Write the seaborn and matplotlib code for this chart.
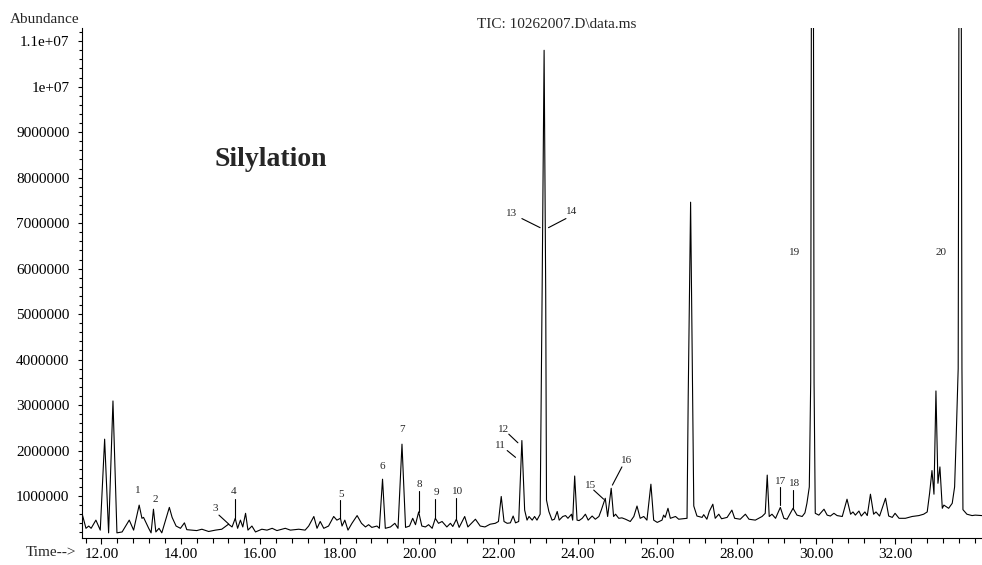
import numpy as np
import pandas as pd
import seaborn as sns
import matplotlib.pyplot as plt
from matplotlib.ticker import MultipleLocator

# TIC trace, vertices (time in min, abundance in millions)
rt = [11.51, 11.61, 11.68, 11.74, 11.86, 11.97, 12.08, 12.18, 12.29, 12.39,
      12.52, 12.70, 12.81, 12.95, 13.02, 13.06, 13.19, 13.25, 13.31, 13.37,
      13.45, 13.52, 13.71, 13.78, 13.88, 13.99, 14.09, 14.15, 14.40, 14.53,
      14.70, 14.87, 15.03, 15.20, 15.29, 15.37, 15.43, 15.50, 15.56, 15.63,
      15.69, 15.79, 15.88, 16.04,
      16.17, 16.30, 16.42, 16.63, 16.76, 16.97, 17.13, 17.22, 17.35, 17.43,
      17.51, 17.60, 17.72, 17.85, 17.93, 18.02, 18.06, 18.13, 18.21, 18.31,
      18.44, 18.55, 18.65, 18.73, 18.81, 18.94, 19.00, 19.08, 19.15, 19.28,
      19.39, 19.47, 19.57, 19.66, 19.76, 19.84, 19.91, 19.99, 20.07, 20.16,
      20.24, 20.33, 20.41, 20.49, 20.58,
      20.70, 20.79, 20.85, 20.94, 21.01, 21.15, 21.23, 21.42, 21.54, 21.66,
      21.79, 21.92, 22.00, 22.07, 22.14, 22.22, 22.30, 22.37, 22.43, 22.51,
      22.59, 22.66, 22.72, 22.77, 22.85, 22.91, 22.97, 23.05, 23.10, 23.15,
      23.19, 23.21, 23.27, 23.35, 23.41, 23.48, 23.53, 23.62, 23.69, 23.75,
      23.84, 23.87, 23.92, 23.98, 24.03, 24.11, 24.19, 24.26, 24.36, 24.44,
      24.53, 24.59, 24.69, 24.75, 24.84, 24.90, 24.95, 25.03, 25.11,
      25.20, 25.32, 25.41, 25.49, 25.57, 25.66, 25.74, 25.84, 25.91, 26.00,
      26.12, 26.16, 26.20, 26.27, 26.33, 26.46, 26.54, 26.75, 26.78, 26.84,
      26.89, 26.92, 27.00, 27.13, 27.17, 27.25, 27.31, 27.40, 27.46, 27.55,
      27.62, 27.76, 27.88, 27.95, 28.09, 28.22, 28.31, 28.47, 28.64, 28.72,
      28.77, 28.82, 28.89, 28.98, 29.10, 29.19, 29.27, 29.42, 29.52, 29.65,
      29.72, 29.77, 29.83, 29.865, 29.91, 29.95, 29.98, 30.07, 30.20, 30.28,
      30.36, 30.45, 30.53, 30.66, 30.78, 30.87, 30.93, 30.99, 31.08, 31.14,
      31.23, 31.29, 31.37, 31.45, 31.51, 31.60, 31.75, 31.83, 31.92, 31.99,
      32.09, 32.25, 32.42, 32.59, 32.71, 32.80, 32.86, 32.92, 32.97, 33.02,
      33.07, 33.12, 33.18, 33.22, 33.34, 33.43, 33.49, 33.53, 33.58, 33.63,
      33.675, 33.70, 33.80, 33.93, 34.01, 34.18]
abund = [0.62, 0.29, 0.34, 0.29, 0.47, 0.25, 2.25, 0.19, 3.09, 0.19,
         0.21, 0.47, 0.25, 0.80, 0.51, 0.53, 0.29, 0.19, 0.71, 0.21,
         0.29, 0.19, 0.75, 0.53, 0.34, 0.29, 0.41, 0.26, 0.24, 0.27,
         0.22, 0.25, 0.27, 0.38, 0.32, 0.51, 0.29, 0.47, 0.32, 0.62,
         0.25, 0.34, 0.21, 0.27,
         0.25, 0.29, 0.24, 0.29, 0.25, 0.27, 0.25, 0.34, 0.55, 0.29,
         0.44, 0.29, 0.34, 0.55, 0.47, 0.51, 0.34, 0.47, 0.25, 0.40,
         0.57, 0.40, 0.32, 0.37, 0.31, 0.34, 0.29, 1.37, 0.29, 0.32,
         0.40, 0.29, 2.14, 0.31, 0.34, 0.51, 0.37, 0.65, 0.34, 0.32,
         0.37, 0.29, 0.51, 0.40, 0.44,
         0.32, 0.40, 0.33, 0.49, 0.31, 0.55, 0.32, 0.49, 0.34, 0.32,
         0.38, 0.40, 0.44, 0.99, 0.44, 0.40, 0.41, 0.56, 0.41, 0.44,
         2.22, 0.69, 0.47, 0.55, 0.47, 0.55, 0.47, 0.60, 5.50, 10.8,
         5.50, 0.91, 0.66, 0.47, 0.49, 0.66, 0.47, 0.55, 0.57, 0.51,
         0.60, 0.47, 1.44, 0.47, 0.46, 0.51, 0.60, 0.47, 0.56, 0.49,
         0.55, 0.69, 0.95, 0.55, 1.17, 0.55, 0.60, 0.51, 0.52,
         0.49, 0.44, 0.55, 0.78, 0.51, 0.55, 0.47, 1.26, 0.47, 0.42,
         0.47, 0.58, 0.53, 0.73, 0.51, 0.55, 0.49, 0.51, 3.20, 7.46,
         3.20, 0.78, 0.56, 0.53, 0.59, 0.49, 0.66, 0.82, 0.51, 0.60,
         0.50, 0.53, 0.69, 0.51, 0.49, 0.60, 0.49, 0.47, 0.55, 0.62,
         1.46, 0.55, 0.60, 0.51, 0.75, 0.51, 0.49, 0.73, 0.58, 0.55,
         0.63, 0.84, 1.20, 3.50, 25.0, 3.50, 0.62, 0.58, 0.71, 0.58,
         0.56, 0.62, 0.57, 0.55, 0.93, 0.60, 0.65, 0.58, 0.67, 0.56,
         0.65, 0.57, 1.04, 0.60, 0.65, 0.56, 0.95, 0.56, 0.53, 0.62,
         0.51, 0.51, 0.55, 0.57, 0.60, 0.65, 1.06, 1.56, 1.04, 3.31,
         1.28, 1.64, 0.73, 0.80, 0.73, 0.84, 1.20, 2.30, 3.80, 25.0,
         3.80, 0.70, 0.60, 0.57, 0.58, 0.57]

x_ticks = [12, 14, 16, 18, 20, 22, 24, 26, 28, 30, 32]
x_labels = ["12.00", "14.00", "16.00", "18.00", "20.00", "22.00",
            "24.00", "26.00", "28.00", "30.00", "32.00"]
y_ticks = [1e6, 2e6, 3e6, 4e6, 5e6, 6e6, 7e6, 8e6, 9e6, 1e7, 1.1e7]
y_labels = ["1000000", "2000000", "3000000", "4000000", "5000000", "6000000",
            "7000000", "8000000", "9000000", "1e+07", "1.1e+07"]

peak_nums = [str(i) for i in range(1, 21)]

# label placement (time, abundance in millions) and leader lines
label_t = [12.92, 13.36, 14.87, 15.34, 18.03, 19.07, 19.57, 20.01, 20.43, 20.96,
           22.05, 22.12, 22.33, 23.85, 24.31, 25.23, 29.10, 29.46, 29.47, 33.14]
label_a = [1.13, 0.93, 0.73, 1.11, 1.04, 1.64, 2.47, 1.26, 1.07, 1.11,
           2.10, 2.47, 7.21, 7.25, 1.24, 1.77, 1.33, 1.28, 6.35, 6.35]
leaders = [(14.96, 0.58, 15.21, 0.38), (15.37, 0.93, 15.37, 0.51),
           (18.02, 0.91, 18.02, 0.51), (19.99, 1.12, 19.99, 0.65),
           (20.41, 0.93, 20.41, 0.51), (20.94, 0.95, 20.94, 0.49),
           (22.22, 2.00, 22.43, 1.85), (22.26, 2.36, 22.49, 2.17),
           (22.59, 7.10, 23.05, 6.90), (23.70, 7.10, 23.26, 6.90),
           (24.40, 1.13, 24.65, 0.93), (25.11, 1.64, 24.87, 1.24),
           (29.10, 1.20, 29.10, 0.80), (29.42, 1.13, 29.42, 0.74)]

sns.set_style("ticks")
plt.rcParams['font.family'] = ['Liberation Serif', 'DejaVu Serif']

df = pd.DataFrame({"time": rt, "abundance": np.array(abund) * 1e6})

fig = plt.figure(figsize=(9.82, 5.65), dpi=100)
ax = fig.add_axes([82 / 982, 27 / 565, 900 / 982, 510 / 565])
sns.lineplot(data=df, x="time", y="abundance", ax=ax, color="black",
             linewidth=0.8, estimator=None)

ax.set_xlim(11.51, 34.18)
ax.set_ylim(0.077e6, 11.29e6)
sns.despine(ax=ax)
for s in ["left", "bottom"]:
    ax.spines[s].set_color("black")
    ax.spines[s].set_linewidth(0.8)
ax.set_xlabel("")
ax.set_ylabel("")

ax.set_xticks(x_ticks, x_labels)
ax.xaxis.set_minor_locator(MultipleLocator(0.4))
ax.set_yticks(y_ticks, y_labels)
ax.yaxis.set_minor_locator(MultipleLocator(2e5))
ax.tick_params(which="both", direction="out", colors="black", labelsize=11, width=0.8)
ax.tick_params(axis="x", which="major", length=4.5, pad=3)
ax.tick_params(axis="x", which="minor", length=3.5)
ax.tick_params(axis="y", which="major", length=3, pad=6)
ax.tick_params(axis="y", which="minor", length=2)

# peak numbers
for n, t, a in zip(peak_nums, label_t, label_a):
    ax.text(t, a * 1e6, n, fontsize=8, ha="center", va="center")
for t0, a0, t1, a1 in leaders:
    ax.plot([t0, t1], [a0 * 1e6, a1 * 1e6], color="black", linewidth=0.8)

ax.text(14.86, 8.25e6, "Silylation", fontsize=20, fontweight="bold",
        ha="left", va="baseline")

fig.text(10 / 982, 1 - 19.5 / 565, "Abundance", fontsize=11, ha="left", va="center")
fig.text(476.7 / 982, 1 - 25 / 565, "TIC: 10262007.D\\data.ms", fontsize=11,
         ha="left", va="center")
fig.text(76 / 982, 1 - 553 / 565, "Time-->", fontsize=11, ha="right", va="center")

fig.savefig("out.png", dpi=100)
